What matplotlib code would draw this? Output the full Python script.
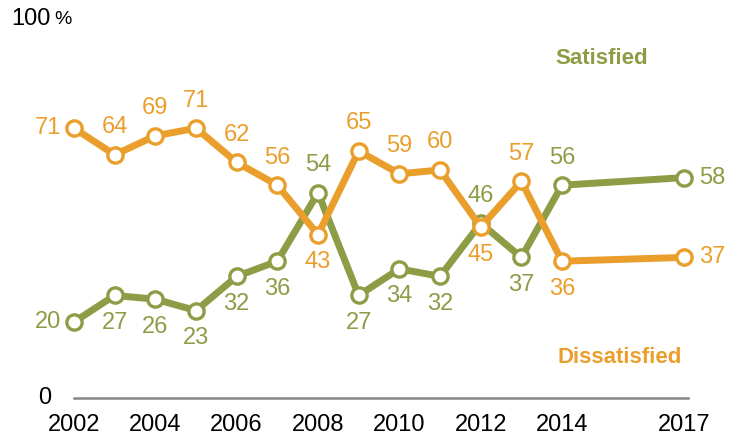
import matplotlib
matplotlib.use("Agg")
import matplotlib.pyplot as plt

plt.rcParams["font.family"] = ["Liberation Sans", "DejaVu Sans"]

years = [2002, 2003, 2004, 2005, 2006, 2007, 2008, 2009, 2010, 2011, 2012, 2013, 2014, 2017]
satisfied = [20, 27, 26, 23, 32, 36, 54, 27, 34, 32, 46, 37, 56, 58]
dissatisfied = [71, 64, 69, 71, 62, 56, 43, 65, 59, 60, 45, 57, 36, 37]
tick_years = [2002, 2004, 2006, 2008, 2010, 2012, 2014, 2017]

# where each value label sits relative to its point: a=above, b=below, l=left, r=right
sat_pos = ["l", "b", "b", "b", "b", "b", "a", "b", "b", "b", "a", "b", "a", "r"]
dis_pos = ["l", "a", "a", "a", "a", "a", "b", "a", "a", "a", "b", "a", "b", "r"]

OLIVE = "#8C9D45"
ORANGE = "#EA9E2B"
FS = 17

fig = plt.figure(figsize=(7.38, 4.40), dpi=100)
ax = fig.add_axes([74 / 738, 42 / 440, 614 / 738, 380 / 440])
ax.set_xlim(2002, 2002 + 614 / 40.67)
ax.set_ylim(0, 100)
ax.axis("off")

ax.axhline(0, color="#858585", lw=1.8, clip_on=False)

offsets = {"a": (0, 12, "center", "bottom"), "b": (0, -12, "center", "top"),
           "l": (-9, 0, "right", "center"), "r": (11, 0, "left", "center")}


def draw_series(vals, pos, color):
    ax.plot(years, vals, color=color, lw=5, marker="o", ms=11,
            mfc="white", mec=color, mew=2.4, clip_on=False, zorder=3,
            solid_joinstyle="round")
    for x, v, p in zip(years, vals, pos):
        dx, dy, ha, va = offsets[p]
        ax.annotate(str(v), (x, v), xytext=(dx, dy), textcoords="offset points",
                    ha=ha, va=va, color=color, fontsize=FS)


draw_series(satisfied, sat_pos, OLIVE)
draw_series(dissatisfied, dis_pos, ORANGE)

for y in tick_years:
    fig.text((74 + (y - 2002) * 40.67) / 738, 1 - 425 / 440, str(y),
             ha="center", va="center", fontsize=FS, color="black")

fig.text(45 / 738, 1 - 398 / 440, "0", ha="center", va="center", fontsize=FS)
fig.text(11 / 738, 1 - 19 / 440, "100", ha="left", va="center", fontsize=FS)
fig.text(54 / 738, 1 - 20 / 440, "%", ha="left", va="center", fontsize=14)

fig.text(602 / 738, 1 - 58 / 440, "Satisfied", ha="center", va="center",
         fontsize=16, fontweight="bold", color=OLIVE)
fig.text(620 / 738, 1 - 357 / 440, "Dissatisfied", ha="center", va="center",
         fontsize=16, fontweight="bold", color=ORANGE)

fig.savefig("out.png", dpi=100)
